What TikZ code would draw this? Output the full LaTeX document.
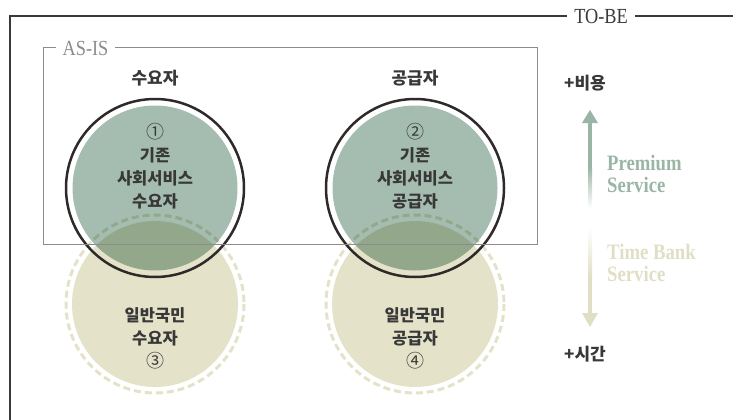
\documentclass[tikz,border=0pt]{standalone}
\usepackage{fontspec}
\setmainfont{Liberation Serif}
\newfontfamily\krfont{Noto Sans CJK KR}
\newfontfamily\tagfont[FakeStretch=0.85]{Liberation Serif}
\usetikzlibrary{arrows.meta,positioning,calc}

\definecolor{sagegreen}{HTML}{A5BDB0}
\definecolor{creambeige}{HTML}{E4E3CA}
\definecolor{darkline}{HTML}{2E2A2A}
\definecolor{framegray}{HTML}{3A3A3A}
\definecolor{boxgray}{HTML}{8C8C8C}
\definecolor{textgray}{HTML}{383838}
\definecolor{arrowgreen}{HTML}{9AB5A5}
\definecolor{arrowbeige}{HTML}{E0DFC6}

\newcommand{\numsign}[1]{{\fontsize{18}{23}\selectfont\mdseries #1}}

\tikzset{
  circtext/.style={font=\krfont\bfseries\fontsize{16.5}{23}\selectfont,
    text=textgray, align=center, inner sep=0pt},
  headtext/.style={font=\krfont\bfseries\fontsize{17}{19}\selectfont,
    text=textgray, inner sep=0pt},
  tagtext/.style={font=\tagfont\fontsize{21.5}{21.5}\selectfont,
    fill=white, inner xsep=7pt, inner ysep=1pt},
  servtext/.style={font=\tagfont\bfseries\fontsize{22}{22}\selectfont,
    align=left, anchor=west, inner sep=0pt},
  dashring/.style={creambeige, line width=3pt, dash pattern=on 7pt off 4pt},
}

\begin{document}
\begin{tikzpicture}[x=1pt,y=-1pt]
  \useasboundingbox (0,0) rectangle (733,420);

  % 중심 좌표
  \coordinate (demand) at (155,188);
  \coordinate (supply) at (415,188);
  \coordinate (pubdemand) at (155,304);
  \coordinate (pubsupply) at (415,304);

  % TO-BE 테두리
  \draw[framegray, line width=2pt] (10,420) -- (10,16.5) -- (733,16.5);
  \node[tagtext, text=framegray] (tobe) at (601,16.5) {TO-BE};

  % 일반국민 원 (아래)
  \foreach \c in {pubdemand,pubsupply}{
    \fill[creambeige] (\c) circle (83);
    \draw[dashring] (\c) circle (89);
  }

  % 기존 사회서비스 원 (위)
  \begin{scope}[blend mode=multiply]
    \fill[sagegreen] (demand) circle (82.5);
    \fill[sagegreen] (supply) circle (82.5);
  \end{scope}
  \draw[darkline, line width=2.5pt] (demand) circle (89);
  \draw[darkline, line width=2.5pt] (supply) circle (89);

  % AS-IS 상자
  \draw[boxgray, line width=1pt] (43,48) rectangle (537,244);
  \node[tagtext, text=boxgray] (asis) at (85.5,48) {AS-IS};

  % 제목
  \node[headtext] (demandhead) at (155,78) {수요자};
  \node[headtext] (supplyhead) at (415,78) {공급자};

  % 원 안 글자
  \node[circtext] (t1) at (155,166) {\numsign{①}\\기존\\사회서비스\\수요자};
  \node[circtext] (t2) at (415,166) {\numsign{②}\\기존\\사회서비스\\공급자};
  \node[circtext] (t3) at (155,338) {일반국민\\수요자\\\numsign{③}};
  \node[circtext] (t4) at (415,338) {일반국민\\공급자\\\numsign{④}};

  % 비용-시간 화살표
  \fill[arrowgreen] (582,123) -- (590,110) -- (598,123) -- cycle;
  \fill[arrowgreen] (588,122) rectangle (592,167);
  \shade[top color=arrowgreen, bottom color=white] (588,167) rectangle (592,208);
  \shade[top color=white, bottom color=arrowbeige] (588,227) rectangle (592,277);
  \fill[arrowbeige] (588,277) rectangle (592,314);
  \fill[arrowbeige] (582,313) -- (590,327) -- (598,313) -- cycle;

  \node[headtext, anchor=west] (cost) at (564,83) {+비용};
  \node[headtext, anchor=west] (time) at (564,354) {+시간};

  \node[servtext, text=arrowgreen] (premium) at (607,174) {Premium\\Service};
  \node[servtext, text=arrowbeige] (timebank) at (607,263) {Time Bank\\Service};
\end{tikzpicture}
\end{document}
